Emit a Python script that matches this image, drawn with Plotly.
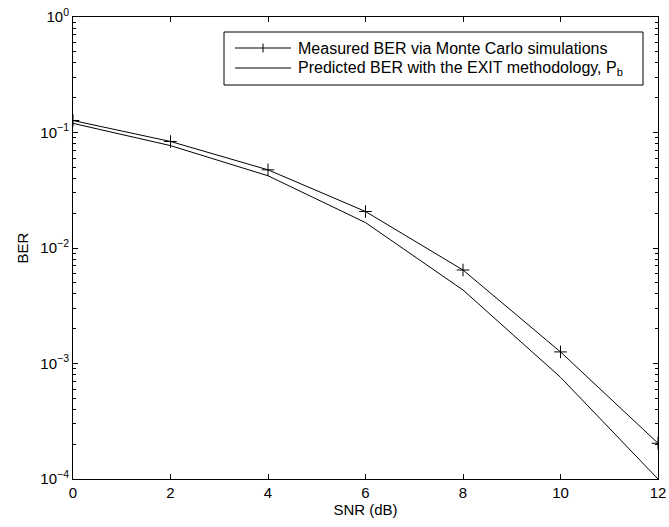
import plotly.graph_objects as go

snr = [0, 2, 4, 6, 8, 10, 12]
ber_measured = [0.127, 0.0836, 0.0475, 0.0207, 0.00645, 0.00126, 0.000204]
ber_predicted = [0.120, 0.077, 0.0422, 0.0166, 0.00433, 0.00076, 0.0001]

name_measured = "Measured BER via Monte Carlo simulations"
name_predicted = "Predicted BER with the EXIT methodology, P<sub>b</sub>"

x_ticks = [0, 2, 4, 6, 8, 10, 12]
y_tickvals = [1e-4, 1e-3, 1e-2, 1e-1, 1e0]
y_ticktext = ["10<sup>−4</sup>", "10<sup>−3</sup>", "10<sup>−2</sup>", "10<sup>−1</sup>", "10<sup>0</sup>"]
y_minor = [m * d for d in [1e-4, 1e-3, 1e-2, 1e-1] for m in range(2, 10)]

FONT = "Liberation Sans, Arial, Helvetica, sans-serif"
W, H = 669, 527
ML, MR, MT, MB = 73, 11, 17, 48
PW, PH = W - ML - MR, H - MT - MB


def px(x):
    return (x - ML) / PW


def py(y):
    return (H - MB - y) / PH


fig = go.Figure()
fig.add_trace(go.Scatter(
    x=snr, y=ber_measured, name=name_measured, mode="lines+markers",
    line=dict(color="black", width=1),
    marker=dict(symbol="cross-thin", size=9, line=dict(color="black", width=1)),
    showlegend=False,
))
fig.add_trace(go.Scatter(
    x=snr, y=ber_predicted, name=name_predicted, mode="lines",
    line=dict(color="black", width=1),
    showlegend=False,
))

# legend box (drawn in paper coordinates)
shapes = [
    dict(type="rect", xref="paper", yref="paper",
         x0=px(224), x1=px(643), y0=py(85), y1=py(32),
         line=dict(color="black", width=1), fillcolor="white", layer="above"),
]
rows = [(48, name_measured, True), (68, name_predicted, False)]
annotations = []
for yrow, label, has_marker in rows:
    shapes.append(dict(type="line", xref="paper", yref="paper",
                       x0=px(235), x1=px(291), y0=py(yrow), y1=py(yrow),
                       line=dict(color="black", width=1), layer="above"))
    if has_marker:
        shapes.append(dict(type="line", xref="paper", yref="paper",
                           x0=px(263), x1=px(263), y0=py(yrow - 4.5), y1=py(yrow + 4.5),
                           line=dict(color="black", width=1), layer="above"))
    annotations.append(dict(xref="paper", yref="paper", x=px(296), y=py(yrow),
                            xanchor="left", yanchor="middle", showarrow=False,
                            text=label, font=dict(family=FONT, size=16, color="black")))

fig.update_layout(
    width=W, height=H,
    margin=dict(l=ML, r=MR, t=MT, b=MB),
    paper_bgcolor="white", plot_bgcolor="white",
    font=dict(family=FONT, size=15, color="black"),
    showlegend=False,
    shapes=shapes,
    annotations=annotations,
    xaxis=dict(
        range=[0, 12], tickvals=x_ticks, ticks="inside", ticklen=5,
        tickcolor="black", showline=True, linecolor="black", linewidth=1,
        mirror="ticks", showgrid=False, zeroline=False, automargin=False,
        tickfont=dict(size=15),
        title=dict(text="SNR (dB)", standoff=3, font=dict(size=15)),
    ),
    yaxis=dict(
        type="log", range=[-4, 0], tickvals=y_tickvals, ticktext=y_ticktext,
        ticks="inside", ticklen=5, tickcolor="black",
        showline=True, linecolor="black", linewidth=1,
        mirror="ticks", showgrid=False, zeroline=False, automargin=False,
        tickfont=dict(size=15),
        minor=dict(tickvals=y_minor, ticks="inside", ticklen=3,
                   tickcolor="black", showgrid=False),
        title=dict(text="BER", standoff=8, font=dict(size=15)),
    ),
)

fig.write_html("out.html")
